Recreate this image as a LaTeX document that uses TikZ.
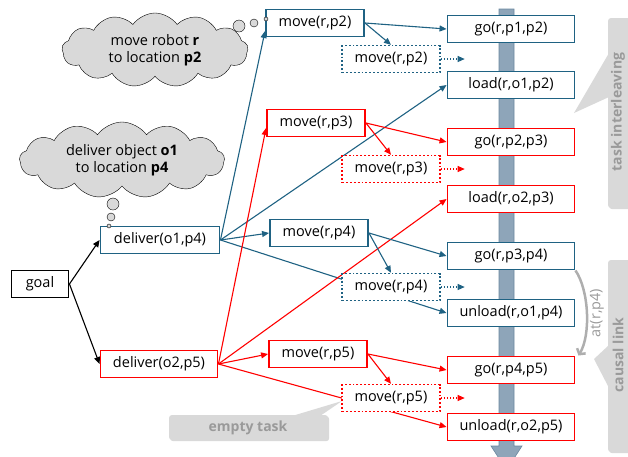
\documentclass[tikz,border=0pt]{standalone}
\usepackage{fontspec}
\setmainfont{Open Sans}
\usepackage{tikz}
\usetikzlibrary{shapes.symbols,arrows.meta,shadows}
\definecolor{tblue}{HTML}{1F6283}
\definecolor{tred}{HTML}{FF0000}
\definecolor{cloudbg}{HTML}{D9D9D9}
\definecolor{notebg}{HTML}{D9D9D9}
\definecolor{notetext}{HTML}{9A9A9A}
\definecolor{barfill}{HTML}{8EA5B9}
\definecolor{bardraw}{HTML}{6A879F}
\pgfdeclarelayer{back}
\pgfsetlayers{back,main}

\begin{document}
\begin{tikzpicture}[x=1pt, y=-1pt, font=\fontsize{14.5}{17}\selectfont,
  task/.style={draw, line width=1.9pt, fill=white, minimum height=27pt, inner xsep=4pt, inner ysep=2pt},
  btask/.style={task, draw=tblue},
  rtask/.style={task, draw=tred},
  prim/.style={minimum width=127pt},
  meth/.style={minimum width=98pt},
  empty/.style={dotted, line width=1.4pt},
  link/.style={line width=1.1pt, -{Triangle[length=7pt,width=6pt]}},
  thought/.style={cloud, cloud puffs=13, cloud puff arc=110, cloud ignores aspect, draw, fill=cloudbg, align=center, inner sep=0pt},
  bubble/.style={circle, draw, fill=cloudbg, inner sep=0pt},
  note/.style={fill=notebg, rounded corners=3pt, drop shadow={shadow xshift=1.2pt, shadow yshift=-1.2pt, opacity=0.3}},
  notelabel/.style={text=notetext, font=\fontsize{14}{16}\selectfont\bfseries}]
  \useasboundingbox (0,0) rectangle (628,456);

  % goal and the two deliver tasks
  \node[task, minimum width=57pt] (goal) at (40,284) {goal};
  \node[btask, minimum width=119pt] (d1) at (160,240) {deliver(o1,p4)};
  \node[rtask, minimum width=117pt] (d2) at (159,364) {deliver(o2,p5)};

  % move methods
  \node[btask, meth] (mp2) at (315,23) {move(r,p2)};
  \node[rtask, meth] (mp3) at (316,123) {move(r,p3)};
  \node[btask, meth] (mp4) at (319,233) {move(r,p4)};
  \node[rtask, meth] (mp5) at (318,354) {move(r,p5)};

  % recursive (empty) moves
  \node[btask, meth, empty] (ep2) at (391,59) {move(r,p2)};
  \node[rtask, meth, empty] (ep3) at (391,169) {move(r,p3)};
  \node[btask, meth, empty] (ep4) at (391,287) {move(r,p4)};
  \node[rtask, meth, empty] (ep5) at (391,398) {move(r,p5)};

  % primitive actions along the plan
  \node[btask, prim] (gp12) at (511,29) {go(r,p1,p2)};
  \node[btask, prim] (lo12) at (511,85) {load(r,o1,p2)};
  \node[rtask, prim] (gp23) at (511,142) {go(r,p2,p3)};
  \node[rtask, prim] (lo23) at (511,199) {load(r,o2,p3)};
  \node[btask, prim] (gp34) at (511,256) {go(r,p3,p4)};
  \node[btask, prim] (ul14) at (511,313) {unload(r,o1,p4)};
  \node[rtask, prim] (gp45) at (511,370) {go(r,p4,p5)};
  \node[rtask, prim] (ul25) at (511,427) {unload(r,o2,p5)};

  \begin{pgfonlayer}{back}
    % time line behind the actions
    \draw[fill=barfill, draw=bardraw, line width=0.6pt]
      (499,9) -- (514,9) -- (514,446) -- (522,446) -- (506.5,470) -- (491,446) -- (499,446) -- cycle;

    % notes
    \fill[note] (608,18) rectangle (645,208);
    \fill[notebg] (609,53) -- (574,113) -- (609,97) -- cycle;
    \fill[note] (608,260) rectangle (645,452);
    \fill[notebg] (609,345) -- (594,359) -- (609,388) -- cycle;
    \fill[note] (169,415) rectangle (328,440);
    \fill[notebg] (292,416) -- (342,401) -- (320,416) -- cycle;

    % decomposition
    \draw[link] (goal.east) -- (d1.west);
    \draw[link] (goal.east) -- (d2.west);

    \draw[link, tblue] (d1.east) -- ([yshift=-8pt]mp2.west);
    \draw[link, tblue] (d1.east) -- (lo12.west);
    \draw[link, tblue] (d1.east) -- (mp4.west);
    \draw[link, tblue] (d1.east) -- (ul14.west);

    \draw[link, tred] (d2.east) -- ([yshift=-5pt]mp3.west);
    \draw[link, tred] (d2.east) -- (lo23.west);
    \draw[link, tred] (d2.east) -- (mp5.west);
    \draw[link, tred] (d2.east) -- (ul25.west);

    \draw[link, tblue] (mp2.east) -- (gp12.west);
    \draw[link, tblue] (mp2.east) -- (ep2.north);
    \draw[link, tred] (mp3.east) -- (gp23.west);
    \draw[link, tred] (mp3.east) -- (ep3.north);
    \draw[link, tblue] (mp4.east) -- (gp34.west);
    \draw[link, tblue] (mp4.east) -- (ep4.north);
    \draw[link, tred] (mp5.east) -- (gp45.west);
    \draw[link, tred] (mp5.east) -- (ep5.north);

    \draw[link, tblue, dotted] (ep2.east) -- ++(24,0);
    \draw[link, tred, dotted] (ep3.east) -- ++(24,0);
    \draw[link, tblue, dotted] (ep4.east) -- ++(24,0);
    \draw[link, tred, dotted] (ep5.east) -- ++(24,0);
  \end{pgfonlayer}

  % note texts
  \node[notelabel, rotate=90] (ti) at (618,112) {task interleaving};
  \node[notelabel, rotate=90] (cl) at (618,355) {causal link};
  \node[notelabel] (et) at (248,428) {empty task};

  % causal link between go actions
  \draw[line width=2.5pt, notetext!80, -{Straight Barb[length=4pt,width=10pt]}]
    (gp34.south east) .. controls (589,290) and (591,335) .. ([xshift=3pt]gp45.north east);
  \node[text=notetext, rotate=90] (at) at (597,313) {at(r,p4)};

  % thought clouds
  \node[thought, minimum width=186pt, minimum height=74pt] (c1) at (155,50) {move robot \textbf{r}\\to location \textbf{p2}};
  \node[bubble, minimum size=12pt] (b11) at (239,26) {};
  \node[bubble, minimum size=8pt] (b12) at (254,23) {};
  \node[bubble, minimum size=4pt] (b13) at (266,19) {};

  \node[thought, minimum width=205pt, minimum height=76pt] (c2) at (122,160) {deliver object \textbf{o1}\\to location \textbf{p4}};
  \node[bubble, minimum size=12pt] (b21) at (113,204) {};
  \node[bubble, minimum size=8pt] (b22) at (111,217) {};
  \node[bubble, minimum size=4pt] (b23) at (109,226) {};
\end{tikzpicture}
\end{document}
